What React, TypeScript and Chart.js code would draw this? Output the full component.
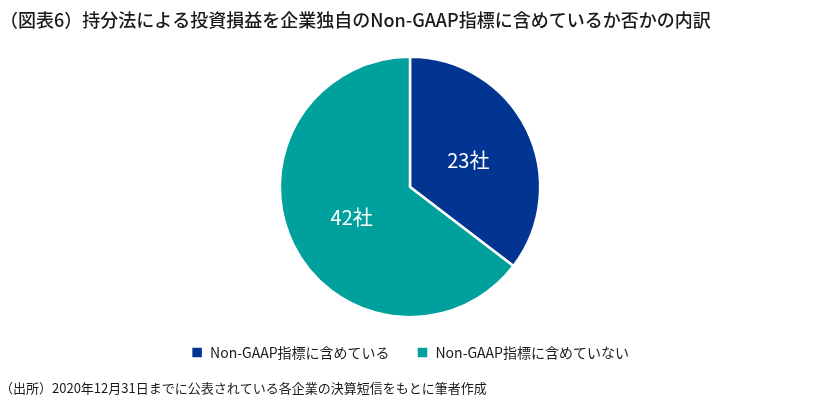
import { useEffect, useRef } from 'react'
import { Chart, registerables } from 'chart.js'

Chart.register(...registerables)

const categories = ['Non-GAAP指標に含めている', 'Non-GAAP指標に含めていない']
const counts = [23, 42]
const colors = ['#023591', '#00a19d']
const titleText = '（図表6）持分法による投資損益を企業独自のNon-GAAP指標に含めているか否かの内訳'
const sourceText = '（出所）2020年12月31日までに公表されている各企業の決算短信をもとに筆者作成'

const FONT = "'Noto Sans CJK JP', 'Noto Sans', sans-serif"

// white "23社" labels inside each slice
const sliceLabels = {
  id: 'sliceLabels',
  afterDatasetsDraw(chart: Chart) {
    const { ctx } = chart
    const meta = chart.getDatasetMeta(0)
    ctx.save()
    ctx.fillStyle = '#ffffff'
    ctx.font = `20px ${FONT}`
    ctx.textAlign = 'center'
    ctx.textBaseline = 'middle'
    meta.data.forEach((arc, i) => {
      const p = (arc as any).tooltipPosition()
      ctx.fillText(`${counts[i]}社`, p.x, p.y + 2)
    })
    ctx.restore()
  },
}

export default function App() {
  const canvasRef = useRef<HTMLCanvasElement>(null)

  useEffect(() => {
    if (!canvasRef.current) return
    const chart = new Chart(canvasRef.current, {
      type: 'pie',
      data: {
        labels: categories,
        datasets: [
          {
            data: counts,
            backgroundColor: colors,
            borderColor: '#ffffff',
            borderWidth: 2.5,
          },
        ],
      },
      options: {
        responsive: false,
        animation: false,
        layout: { padding: { left: 0, right: 0 } },
        plugins: {
          title: {
            display: true,
            text: titleText,
            align: 'start',
            color: '#1a1a1a',
            font: { family: FONT, size: 18, weight: 500 },
            padding: { top: 9, bottom: 25 },
          },
          legend: {
            position: 'bottom',
            labels: {
              boxWidth: 12,
              boxHeight: 12,
              padding: 27,
              color: '#1a1a1a',
              font: { family: FONT, size: 14 },
            },
          },
          subtitle: {
            display: true,
            position: 'bottom',
            align: 'start',
            text: sourceText,
            color: '#1a1a1a',
            font: { family: FONT, size: 13 },
            padding: { top: 11, bottom: 14 },
          },
          tooltip: { enabled: false },
        },
      },
      plugins: [sliceLabels],
    })
    return () => { chart.destroy() }
  }, [])

  return (
    <div style={{ position: 'absolute', left: 0, top: 0, width: 820, height: 410, background: '#fff' }}>
      <canvas ref={canvasRef} width={820} height={410} />
    </div>
  )
}
